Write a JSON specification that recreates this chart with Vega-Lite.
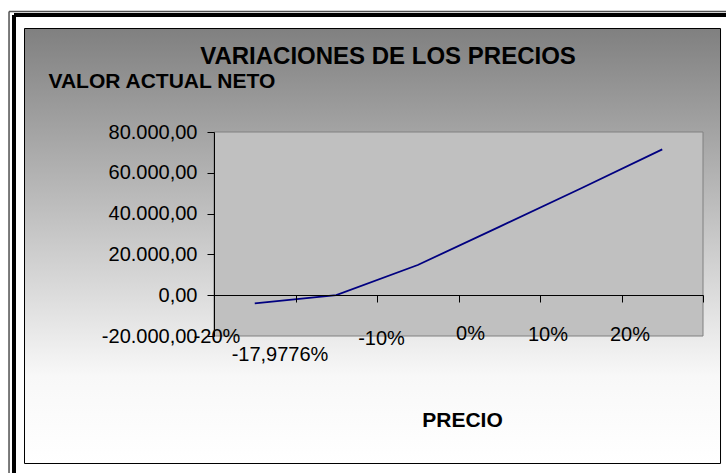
{
  "$schema": "https://vega.github.io/schema/vega-lite/v6.json",
  "width": 489,
  "height": 204,
  "autosize": {"type": "none"},
  "padding": {"left": 214, "top": 132, "right": 23, "bottom": 137},
  "background": "white",
  "config": {
    "view": {"stroke": null},
    "font": "Liberation Sans",
    "locale": {"number": {"decimal": ",", "thousands": ".", "grouping": [3], "currency": ["", ""], "minus": "-"}}
  },
  "title": {
    "text": "VARIACIONES DE LOS PRECIOS",
    "fontSize": 24,
    "fontWeight": "bold",
    "font": "Liberation Sans",
    "color": "black",
    "anchor": "middle",
    "frame": "group",
    "dx": -70.5,
    "offset": -77,
    "baseline": "alphabetic"
  },
  "layer": [
    {
      "data": {"values": [{}]},
      "mark": {
        "type": "rect",
        "clip": false,
        "stroke": "black",
        "strokeWidth": 1,
        "fill": {
          "gradient": "linear",
          "x1": 0, "y1": 0, "x2": 0, "y2": 1,
          "stops": [
            {"offset": 0, "color": "#808080"},
            {"offset": 0.8, "color": "#f8f8f8"},
            {"offset": 1, "color": "#ffffff"}
          ]
        }
      },
      "encoding": {
        "x": {"datum": -1.825, "type": "quantitative", "scale": {"domain": [0.5, 6.5], "nice": false, "zero": false}},
        "x2": {"datum": 6.715},
        "y": {"datum": 130735, "type": "quantitative", "scale": {"domain": [-20000, 80000], "nice": false, "zero": false}},
        "y2": {"datum": -82500}
      }
    },
    {
      "data": {"values": [{}]},
      "mark": {"type": "rect", "clip": false, "fill": "#c0c0c0", "stroke": "#808080", "strokeWidth": 1},
      "encoding": {
        "x": {"datum": 0.5, "type": "quantitative", "scale": {"domain": [0.5, 6.5], "nice": false, "zero": false}},
        "x2": {"datum": 6.5},
        "y": {"datum": -20000, "type": "quantitative", "scale": {"domain": [-20000, 80000], "nice": false, "zero": false}},
        "y2": {"datum": 80000}
      }
    },
    {
      "data": {"values": [{}]},
      "layer": [
        {
          "mark": {"type": "rule", "clip": false, "color": "black", "strokeWidth": 4},
          "encoding": {
            "x": {"datum": -1.954, "type": "quantitative", "scale": {"domain": [0.5, 6.5], "nice": false, "zero": false}},
            "y": {"datum": 137353, "type": "quantitative", "scale": {"domain": [-20000, 80000], "nice": false, "zero": false}},
            "y2": {"datum": -91000}
          }
        },
        {
          "mark": {"type": "rule", "clip": false, "color": "black", "strokeWidth": 4},
          "encoding": {
            "x": {"datum": -1.954, "type": "quantitative", "scale": {"domain": [0.5, 6.5], "nice": false, "zero": false}},
            "x2": {"datum": 6.9},
            "y": {"datum": 137353, "type": "quantitative", "scale": {"domain": [-20000, 80000], "nice": false, "zero": false}}
          }
        },
        {
          "mark": {"type": "rule", "clip": false, "color": "#505050", "strokeWidth": 1.5},
          "encoding": {
            "x": {"datum": -2.015, "type": "quantitative", "scale": {"domain": [0.5, 6.5], "nice": false, "zero": false}},
            "y": {"datum": 139069, "type": "quantitative", "scale": {"domain": [-20000, 80000], "nice": false, "zero": false}},
            "y2": {"datum": -91000}
          }
        },
        {
          "mark": {"type": "rule", "clip": false, "color": "#505050", "strokeWidth": 1.5},
          "encoding": {
            "x": {"datum": -2.015, "type": "quantitative", "scale": {"domain": [0.5, 6.5], "nice": false, "zero": false}},
            "x2": {"datum": 6.9},
            "y": {"datum": 139069, "type": "quantitative", "scale": {"domain": [-20000, 80000], "nice": false, "zero": false}}
          }
        }
      ]
    },
    {
      "data": {"values": [
        {"precio": "-20%", "van": -3970},
        {"precio": "-17,9776%", "van": 0},
        {"precio": "-10%", "van": 14800},
        {"precio": "0%", "van": 33500},
        {"precio": "10%", "van": 52300},
        {"precio": "20%", "van": 71500}
      ]},
      "transform": [{"window": [{"op": "row_number", "as": "orden"}]}],
      "mark": {"type": "line", "color": "#000080", "strokeWidth": 1.8, "clip": false},
      "encoding": {
        "x": {
          "field": "orden",
          "type": "quantitative",
          "scale": {"domain": [0.5, 6.5], "nice": false, "zero": false},
          "axis": {
            "orient": "bottom",
            "offset": -41,
            "values": [0.5, 1.5, 2.5, 3.5, 4.5, 5.5, 6.5],
            "labelExpr": "['-20%','-17,9776%','-10%','0%','10%','20%',''][floor(datum.value)]",
            "domainColor": "black",
            "domainWidth": 1,
            "tickColor": "black",
            "tickSize": 7,
            "tickWidth": 1,
            "grid": false,
            "labelFont": "Liberation Sans",
            "labelFontSize": 20,
            "labelColor": "black",
            "labelAlign": "center",
            "labelBaseline": "top",
            "labelOverlap": false,
            "labelFlush": false,
            "labelBound": false,
            "labelOffset": {
              "condition": [
                {"test": "datum.value == 0.5", "value": 2.5},
                {"test": "datum.value == 1.5", "value": -16},
                {"test": "datum.value == 2.5", "value": 4},
                {"test": "datum.value == 3.5", "value": 11.5},
                {"test": "datum.value == 4.5", "value": 7.5},
                {"test": "datum.value == 5.5", "value": 8}
              ],
              "value": 0
            },
            "labelPadding": {
              "condition": [
                {"test": "datum.value == 0.5", "value": 24.5},
                {"test": "datum.value == 1.5", "value": 42.5},
                {"test": "datum.value == 2.5", "value": 26},
                {"test": "datum.value == 3.5", "value": 21}
              ],
              "value": 22.5
            },
            "title": "PRECIO",
            "titleFont": "Liberation Sans",
            "titleFontSize": 21,
            "titleFontWeight": "bold",
            "titleColor": "black",
            "titleX": 248,
            "titleY": 131,
            "titleAlign": "center",
            "titleBaseline": "alphabetic",
            "titleAngle": 0,
            "zindex": 1
          }
        },
        "y": {
          "field": "van",
          "type": "quantitative",
          "scale": {"domain": [-20000, 80000], "nice": false, "zero": false},
          "axis": {
            "orient": "left",
            "values": [-20000, 0, 20000, 40000, 60000, 80000],
            "format": ",.2f",
            "labelFont": "Liberation Sans",
            "labelFontSize": 20,
            "labelColor": "black",
            "labelPadding": 10,
            "labelFlush": false,
            "labelOverlap": false,
            "tickSize": 7,
            "tickColor": "black",
            "tickWidth": 1,
            "domainColor": "black",
            "domainWidth": 1,
            "grid": false,
            "title": "VALOR ACTUAL NETO",
            "titleFont": "Liberation Sans",
            "titleFontSize": 21,
            "titleFontWeight": "bold",
            "titleColor": "black",
            "titleAngle": 0,
            "titleAlign": "left",
            "titleBaseline": "alphabetic",
            "titleX": -166,
            "titleY": -45,
            "zindex": 1
          }
        }
      }
    }
  ]
}
